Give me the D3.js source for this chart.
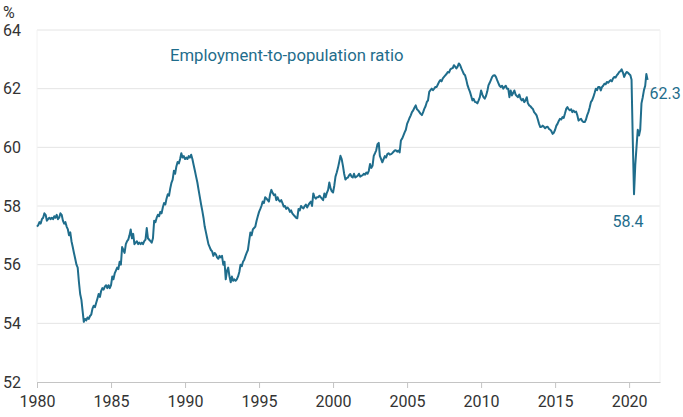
<!DOCTYPE html>
<html>
<head>
<meta charset="utf-8">
<script src="https://cdn.jsdelivr.net/npm/d3@7/dist/d3.min.js"></script>
<style>
  body { margin: 0; background: #fff; }
  svg { display: block; font-family: Roboto, "Noto Sans", sans-serif; }
  .grid line { stroke: #e4e4e4; }
  .axis text { fill: #333; font-size: 16px; }
</style>
</head>
<body>
<svg id="chart" width="683" height="417"></svg>
<script>
// monthly employment-to-population ratio, %, from Jan 1980
const ratio1980s = [
  57.3, 57.35, 57.45, 57.4, 57.55, 57.6, 57.75, 57.7, 57.5, 57.55, 57.6, 57.55,
  57.6, 57.55, 57.65, 57.6, 57.7, 57.55, 57.6, 57.75, 57.7, 57.5, 57.4, 57.45,
  57.3, 57.2, 57.0, 57.1, 56.8, 56.6, 56.4, 56.2, 56.0, 55.9, 55.4, 55.0,
  54.8, 54.4, 54.05, 54.15, 54.1, 54.2, 54.15, 54.25, 54.3, 54.5, 54.6, 54.55,
  54.7, 54.85, 55.0, 54.9, 55.1, 55.2, 55.15, 55.25, 55.3, 55.2, 55.3, 55.2,
  55.3, 55.6, 55.5, 55.7, 55.8, 55.9, 55.85, 56.1, 56.0, 56.6, 56.5, 56.4,
  56.7, 56.8, 56.85, 57.0, 57.2, 56.9, 57.05, 56.7, 56.75, 56.8, 56.7, 56.75,
  56.7, 56.75, 56.7, 56.8, 56.85, 57.25, 56.9, 56.85, 56.8, 56.75, 56.9, 57.5,
  57.45, 57.6, 57.7, 57.65, 57.8, 57.75, 57.95, 58.1, 58.05, 58.25, 58.4, 58.35,
  58.6, 58.8, 58.9, 59.2, 59.1, 59.35, 59.5, 59.45, 59.6, 59.8, 59.65, 59.7
];
const ratio1990s = [
  59.6, 59.65, 59.6, 59.7, 59.65, 59.75, 59.6, 59.4, 59.2, 59.0, 58.8, 58.55,
  58.3, 58.05, 57.85, 57.6, 57.3, 57.1, 56.9, 56.7, 56.6, 56.5, 56.45, 56.3,
  56.4, 56.35, 56.25, 56.2, 56.3, 56.25, 56.3, 56.0, 56.1, 55.5, 55.8, 55.9,
  55.6, 55.4, 55.6, 55.45, 55.5, 55.45, 55.5, 55.6, 55.75, 56.0, 55.95, 56.1,
  56.17, 56.3, 56.4, 56.5, 56.8, 57.1, 57.0, 57.2, 57.25, 57.3, 57.5, 57.65,
  57.8, 57.9, 58.0, 58.15, 58.1, 58.3, 58.26, 58.2, 58.15, 58.4, 58.55, 58.45,
  58.37, 58.4, 58.2, 58.3, 58.2, 58.15, 58.2, 58.1, 57.98, 58.0, 57.9, 57.95,
  57.9, 57.8, 57.85, 57.75, 57.7, 57.65, 57.6, 57.58, 57.9, 57.85, 58.0, 57.95,
  57.92, 58.0, 58.05, 57.95, 58.03, 58.1, 58.15, 58.0, 58.43, 58.3, 58.25, 58.3,
  58.3, 58.35, 58.3, 58.25, 58.2, 58.43, 58.3, 58.45, 58.55, 58.8, 58.6, 58.5
];
const ratio2000s = [
  58.46, 58.7, 59.0, 59.14, 59.3, 59.5, 59.71, 59.6, 59.37, 59.1, 58.9, 58.95,
  58.97, 59.05, 59.09, 59.0, 58.97, 59.1, 58.97, 59.0, 59.03, 59.1, 59.0, 59.03,
  59.05, 59.1, 59.07, 59.14, 59.1, 59.2, 59.43, 59.3, 59.37, 59.71, 59.8, 59.9,
  60.11, 60.15, 59.71, 59.6, 59.49, 59.6, 59.7, 59.65, 59.77, 59.8, 59.75, 59.77,
  59.8, 59.85, 59.89, 59.9, 59.85, 59.89, 59.83, 60.23, 60.3, 60.4, 60.51, 60.6,
  60.8, 60.9, 61.0, 61.09, 61.2, 61.26, 61.35, 61.43, 61.3, 61.26, 61.2, 61.14,
  61.1, 61.2, 61.31, 61.4, 61.54, 61.6, 61.89, 61.95, 62.0, 61.95, 62.0, 62.06,
  62.06, 62.15, 62.23, 62.29, 62.25, 62.35, 62.4, 62.45, 62.5, 62.57, 62.55, 62.65,
  62.69, 62.7, 62.8, 62.75, 62.69, 62.75, 62.86, 62.8, 62.69, 62.6, 62.5, 62.46,
  62.3, 62.11, 62.0, 61.89, 61.75, 61.6, 61.65, 61.55, 61.54, 61.5, 61.6, 61.71
];
const ratio2010s = [
  61.94, 61.8, 61.71, 61.66, 61.75, 61.9, 62.11, 62.2, 62.3, 62.4, 62.45, 62.46,
  62.4, 62.29, 62.2, 62.1, 62.06, 62.1, 62.0, 62.06, 62.1, 62.0, 62.0, 61.71,
  61.94, 61.77, 61.85, 61.94, 61.8, 61.75, 61.71, 61.8, 61.66, 61.6, 61.65, 61.54,
  61.6, 61.71, 61.5, 61.43, 61.4, 61.35, 61.31, 61.2, 61.15, 61.09, 60.95, 60.8,
  60.69, 60.7, 60.74, 60.7, 60.65, 60.69, 60.7, 60.63, 60.6, 60.55, 60.46, 60.5,
  60.6, 60.74, 60.8, 60.9, 60.97, 60.95, 61.03, 61.0, 61.15, 61.31, 61.37, 61.3,
  61.26, 61.3, 61.2, 61.25, 61.2, 61.22, 61.1, 60.91, 60.95, 60.97, 60.9, 60.86,
  60.86, 60.95, 61.09, 61.2, 61.35, 61.54, 61.6, 61.71, 61.85, 62.0, 61.95, 62.06,
  62.06, 61.94, 62.05, 62.1, 62.17, 62.15, 62.23, 62.2, 62.25, 62.29, 62.25, 62.35,
  62.4, 62.38, 62.45, 62.5, 62.57, 62.6, 62.66, 62.55, 62.4, 62.5, 62.57, 62.55
];
const ratio2020s = [
  62.5, 62.46, 62.3, 60.2, 58.4, 59.4, 60.0, 60.6, 60.4, 60.6, 61.5, 61.7,
  61.95, 62.1, 62.5, 62.3
];

const yTicks = [52, 54, 56, 58, 60, 62, 64];
const seriesName = 'Employment-to-population ratio';
const lowLabel = '58.4';
const lastLabel = '62.3';

const lineColor = '#1f6d8c';

const values = [].concat(ratio1980s, ratio1990s, ratio2000s, ratio2010s, ratio2020s);
const start = new Date(1980, 0, 1);
const data = values.map((v, i) => ({ date: d3.timeMonth.offset(start, i), value: v }));

const svg = d3.select('#chart');
const x0 = 37, x1 = 660, yTop = 30, yBottom = 382;

const x = d3.scaleTime()
  .domain([start, new Date(2022, 1, 1)])
  .range([x0, x1]);

const y = d3.scaleLinear()
  .domain([52, 64])
  .range([yBottom, yTop]);

// horizontal grid
svg.append('g')
  .attr('class', 'grid')
  .selectAll('line')
  .data(yTicks.filter(d => d > 52))
  .enter()
    .append('line')
    .attr('x1', x0)
    .attr('x2', x1)
    .attr('y1', d => y(d))
    .attr('y2', d => y(d));

// faint frame sides
svg.append('g')
  .selectAll('line')
  .data([x0, x1])
  .enter()
    .append('line')
    .attr('x1', d => d).attr('x2', d => d)
    .attr('y1', yTop).attr('y2', yBottom)
    .attr('stroke', '#f2f2f2');

// y labels
svg.append('g')
  .attr('class', 'axis')
  .selectAll('text')
  .data(yTicks)
  .enter()
    .append('text')
    .attr('x', 3)
    .attr('y', d => y(d))
    .attr('dy', '0.35em')
    .text(d => d);

svg.append('text')
  .attr('x', 3)
  .attr('y', 18)
  .attr('fill', '#333')
  .style('font-size', '16px')
  .text('%');

// x axis
const xAxis = svg.append('g')
  .attr('class', 'axis')
  .attr('transform', `translate(0,${yBottom})`)
  .call(d3.axisBottom(x)
    .ticks(d3.timeYear.every(5))
    .tickFormat(d3.timeFormat('%Y'))
    .tickSize(6)
    .tickSizeOuter(0));

xAxis.select('.domain').attr('stroke', '#c4c4c4');
xAxis.selectAll('.tick line').attr('stroke', '#c4c4c4');
xAxis.selectAll('.tick text')
  .attr('y', 14)
  .attr('dy', '0.71em')
  .style('font-family', 'Roboto, sans-serif');

// series line
const line = d3.line()
  .x(d => x(d.date))
  .y(d => y(d.value));

svg.append('path')
  .datum(data)
  .attr('fill', 'none')
  .attr('stroke', lineColor)
  .attr('stroke-width', 2)
  .attr('stroke-linejoin', 'round')
  .attr('d', line);

// labels
svg.append('text')
  .attr('x', 170)
  .attr('y', 55)
  .attr('dy', '0.35em')
  .attr('fill', lineColor)
  .style('font-size', '16.7px')
  .text(seriesName);

// covid trough: lowest point since 2020
const recent = data.filter(d => d.date >= new Date(2020, 0, 1));
const low = recent.reduce((a, b) => (b.value < a.value ? b : a));
const last = data[data.length - 1];

svg.append('text')
  .attr('x', x(low.date) - 6)
  .attr('y', y(low.value) + 27)
  .attr('dy', '0.35em')
  .attr('text-anchor', 'middle')
  .attr('fill', lineColor)
  .style('font-size', '16px')
  .text(lowLabel);

svg.append('text')
  .attr('x', x(last.date) + 2)
  .attr('y', y(last.value) + 14)
  .attr('dy', '0.35em')
  .attr('fill', lineColor)
  .style('font-size', '16px')
  .text(lastLabel);
</script>
</body>
</html>
